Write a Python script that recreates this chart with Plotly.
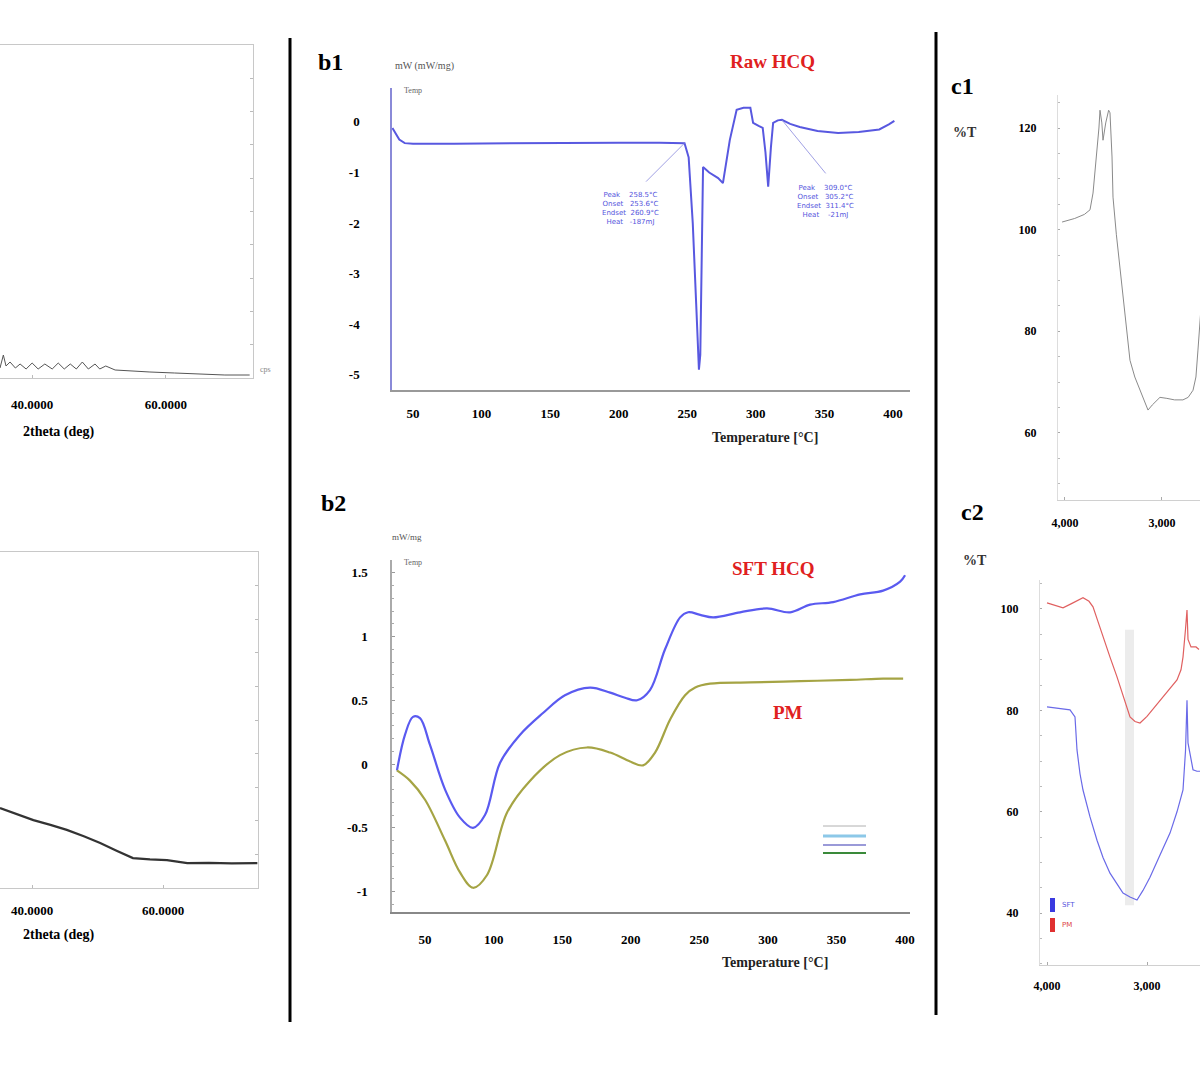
import plotly.graph_objects as go

W, H = 1200, 1080

# ---------------- data ----------------
# a1: XRD pattern (2theta, intensity, arbitrary units)
a1_2theta = [35.2, 35.7, 36.1, 36.7, 37.5, 38.2, 39.1, 40.0, 40.9, 41.9, 43.0, 43.9, 44.8, 45.7,
             46.6, 47.5, 48.4, 49.4, 50.1, 51.0, 52.4, 54.6, 57.6, 61.3, 65.1, 68.8, 72.5]
a1_int = [3.0, 6.9, 3.6, 4.8, 3.0, 4.2, 2.7, 4.5, 2.7, 4.2, 2.7, 4.5, 2.7, 4.2,
          2.7, 4.8, 2.7, 4.2, 2.7, 3.6, 2.4, 2.1, 1.8, 1.5, 1.2, 0.9, 0.9]

# a2: XRD pattern (amorphous)
a2_2theta = [35.1, 37.5, 40.2, 42.8, 45.3, 47.9, 50.4, 52.9, 55.4, 58.0, 60.6, 63.7, 67.0, 70.5, 74.4]
a2_int = [23.8, 22.1, 20.2, 18.8, 17.3, 15.4, 13.4, 11.1, 8.9, 8.5, 8.3, 7.4, 7.5, 7.3, 7.4]

# b1: DSC Raw HCQ (temperature degC, heat flow mW)
b1_T = [35, 37, 40, 44, 50, 80, 120, 160, 200, 230, 248, 251, 254, 256.5, 258.5, 259.5, 260.5,
        261.5, 266, 272.5, 276, 281, 286, 291, 296, 298, 302, 305, 307, 309, 311, 312.6, 316,
        319, 325, 332, 345, 360, 375, 390, 397, 401]
b1_mW = [-0.12, -0.22, -0.35, -0.42, -0.43, -0.43, -0.42, -0.42, -0.41, -0.41, -0.42, -0.7, -2.0,
         -3.6, -4.9, -4.6, -2.8, -0.89, -1.0, -1.11, -1.21, -0.36, 0.24, 0.28, 0.28, -0.02, -0.08,
         -0.12, -0.6, -1.28, -0.5, -0.02, 0.03, 0.04, -0.04, -0.1, -0.18, -0.22, -0.2, -0.15,
         -0.05, 0.02]

# b2: DSC SFT HCQ and PM
b2_sft_T = [29.5, 35.4, 41.2, 46.3, 53.6, 64.6, 75.5, 85, 93.7, 104.7, 119.3, 136, 152, 170.3,
            185, 195.8, 204.6, 214, 225, 236, 241.8, 250.6, 260, 279.7, 299.4, 316.2, 330.8,
            347.6, 367.3, 384, 396.4, 400]
b2_sft_mW = [-0.05, 0.23, 0.37, 0.36, 0.15, -0.2, -0.42, -0.5, -0.4, 0.01, 0.23, 0.4, 0.54, 0.6,
             0.56, 0.52, 0.5, 0.58, 0.9, 1.15, 1.19, 1.17, 1.15, 1.19, 1.22, 1.19, 1.25, 1.27,
             1.33, 1.36, 1.43, 1.48]
b2_pm_T = [29.5, 39, 50, 64.6, 75.5, 85, 95.2, 109.8, 126.6, 148.4, 168.1, 185, 199.5, 209,
           217.7, 228.7, 239.6, 247, 257.8, 287, 323.5, 360, 384, 398.6]
b2_pm_mW = [-0.05, -0.13, -0.28, -0.6, -0.85, -0.97, -0.87, -0.38, -0.13, 0.07, 0.13, 0.09, 0.02,
            -0.01, 0.09, 0.35, 0.54, 0.6, 0.63, 0.64, 0.65, 0.66, 0.67, 0.67]

# c1: FTIR (wavenumber cm-1, %T)
c1_wn = [4030, 3900, 3800, 3742, 3711, 3670, 3650, 3639, 3620, 3608, 3580, 3550, 3536, 3515,
         3505, 3470, 3433, 3402, 3360, 3330, 3280, 3227, 3180, 3144, 3100, 3021, 2950, 2870,
         2784, 2730, 2680, 2650, 2629, 2600]
c1_T = [101.5, 102.2, 103, 103.9, 107.2, 115.1, 120, 123.5, 121, 117.6, 121, 123.5, 123, 114.3,
        106.4, 99, 92.6, 86.1, 79, 74.3, 71, 68.4, 66, 64.5, 65.5, 67, 66.8, 66.5, 66.5, 67,
        68.4, 71, 76.3, 84]

# c2: FTIR two spectra
c2_red_wn = [4000, 3900, 3840, 3760, 3700, 3640, 3580, 3540, 3490, 3440, 3370, 3300, 3230, 3170,
             3120, 3070, 3000, 2930, 2870, 2780, 2700, 2660, 2640, 2615, 2600, 2590, 2560, 2510, 2480]
c2_red_T = [101.2, 100.6, 100.2, 101, 101.6, 102.2, 101.5, 100.4, 97.5, 94.5, 90.5, 86.6, 82.5,
            78.7, 77.8, 77.5, 78.8, 80.5, 82, 84, 86, 88, 90.5, 96, 99.8, 94, 92.5, 92.5, 92]
c2_blue_wn = [4000, 3900, 3830, 3770, 3720, 3700, 3670, 3640, 3570, 3500, 3440, 3370, 3300, 3240,
              3170, 3100, 3040, 2970, 2870, 2770, 2700, 2640, 2615, 2600, 2590, 2560, 2540, 2500, 2470]
c2_blue_T = [80.7, 80.5, 80.3, 80.1, 78.7, 72.2, 67.5, 64.3, 59, 54.4, 51, 47.9, 45.8, 44, 43.2,
             42.6, 44.5, 47.1, 51.5, 55.8, 60, 64.3, 72, 82, 73.6, 70, 68.3, 68, 68]

# tick labels
xrd_ticks = [40, 60]
xrd_ticktext = ["40.0000", "60.0000"]
dsc_xticks = [50, 100, 150, 200, 250, 300, 350, 400]
b1_yticks = [0, -1, -2, -3, -4, -5]
b1_yticktext = ["0", "-1", "-2", "-3", "-4", "-5"]
b2_yticks = [1.5, 1, 0.5, 0, -0.5, -1]
b2_yticktext = ["1.5", "1", "0.5", "0", "-0.5", "-1"]
ir_xticks = [4000, 3000]
ir_xticktext = ["4,000", "3,000"]
c1_yticks = [120, 100, 80, 60]
c2_yticks = [100, 80, 60, 40]

# DSC annotation blocks (text)
b1_block1 = ["Peak    258.5°C", "Onset   253.6°C", "Endset  260.9°C", "Heat   -187mJ"]
b1_block2 = ["Peak    309.0°C", "Onset   305.2°C", "Endset  311.4°C", "Heat    -21mJ"]

SERIF = "Liberation Serif"


def px(x):
    return x / W


def py(y):
    return 1 - y / H


fig = go.Figure()

fig.add_trace(go.Scatter(x=a1_2theta, y=a1_int, xaxis="x", yaxis="y", mode="lines",
                         line=dict(color="#555555", width=1)))
fig.add_trace(go.Scatter(x=a2_2theta, y=a2_int, xaxis="x2", yaxis="y2", mode="lines",
                         line=dict(color="#333333", width=2.2)))
fig.add_trace(go.Scatter(x=b1_T, y=b1_mW, xaxis="x3", yaxis="y3", mode="lines",
                         line=dict(color="#5858e0", width=2)))
fig.add_trace(go.Scatter(x=b2_sft_T, y=b2_sft_mW, xaxis="x4", yaxis="y4", mode="lines",
                         line=dict(color="#5a5af0", width=2.2, shape="spline")))
fig.add_trace(go.Scatter(x=b2_pm_T, y=b2_pm_mW, xaxis="x4", yaxis="y4", mode="lines",
                         line=dict(color="#a5a444", width=2.2, shape="spline")))
fig.add_trace(go.Scatter(x=c1_wn, y=c1_T, xaxis="x5", yaxis="y5", mode="lines",
                         line=dict(color="#8a8a8a", width=1)))
fig.add_trace(go.Scatter(x=c2_red_wn, y=c2_red_T, xaxis="x6", yaxis="y6", mode="lines",
                         line=dict(color="#e06060", width=1.2)))
fig.add_trace(go.Scatter(x=c2_blue_wn, y=c2_blue_T, xaxis="x6", yaxis="y6", mode="lines",
                         line=dict(color="#6a6ae8", width=1.2)))

tickfont = dict(family=SERIF, size=13, color="black", weight="bold")
small_tickfont = dict(family=SERIF, size=12, color="black", weight="bold")

base = dict(showgrid=False, zeroline=False, automargin=False)

layout = dict(
    width=W, height=H, margin=dict(l=0, r=0, t=0, b=0, pad=0), autosize=False,
    paper_bgcolor="white", plot_bgcolor="white", showlegend=False,
    # a1
    xaxis=dict(**base, domain=[0, px(253)], range=[35.2, 73.0], anchor="y",
               tickvals=xrd_ticks, ticktext=xrd_ticktext, tickfont=tickfont,
               ticks="inside", ticklen=3, tickcolor="#bbbbbb", showline=True,
               linecolor="#c8c8c8", mirror=True, ticklabelstandoff=14),
    yaxis=dict(**base, domain=[py(378), py(45)], range=[0, 100], anchor="x", side="right",
               showticklabels=False, ticks="inside", ticklen=3, dtick=10,
               tickcolor="#bbbbbb", showline=True, linecolor="#c8c8c8"),
    # a2
    xaxis2=dict(**base, domain=[0, px(258)], range=[35.1, 74.5], anchor="y2",
                tickvals=xrd_ticks, ticktext=xrd_ticktext, tickfont=tickfont,
                ticks="inside", ticklen=3, tickcolor="#bbbbbb", showline=True,
                linecolor="#c8c8c8", mirror=True, ticklabelstandoff=10),
    yaxis2=dict(**base, domain=[py(888), py(552)], range=[0, 100], anchor="x2", side="right",
                showticklabels=False, ticks="inside", ticklen=3, dtick=10,
                tickcolor="#bbbbbb", showline=True, linecolor="#c8c8c8"),
    # b1
    xaxis3=dict(**base, domain=[px(392), px(910)], range=[34.7, 412.4], anchor="y3",
                tickvals=dsc_xticks, tickfont=tickfont, ticks="", showline=True,
                linecolor="#999999", linewidth=2, ticklabelstandoff=10),
    yaxis3=dict(**base, domain=[py(390), py(88)], range=[-5.3, 0.67], anchor="x3",
                tickvals=b1_yticks, ticktext=b1_yticktext, tickfont=tickfont, ticks="",
                showline=True, linecolor="#8a8ad8", linewidth=1.5, ticklabelstandoff=28),
    # b2
    xaxis4=dict(**base, domain=[px(392), px(910)], range=[25.9, 403.6], anchor="y4",
                tickvals=dsc_xticks, tickfont=tickfont, ticks="", showline=True,
                linecolor="#888888", linewidth=2, ticklabelstandoff=14),
    yaxis4=dict(**base, domain=[py(912), py(560)], range=[-1.16, 1.6], anchor="x4",
                tickvals=b2_yticks, ticktext=b2_yticktext, tickfont=tickfont, ticks="inside",
                ticklen=3, tickcolor="#999999", showline=True, linecolor="#aaaaaa",
                linewidth=1.5, ticklabelstandoff=20,
                minor=dict(ticks="inside", ticklen=2, tickcolor="#aaaaaa", dtick=0.1)),
    # c1
    xaxis5=dict(**base, domain=[px(1058), 1.0], range=[4072, 2608], anchor="y5",
                tickvals=ir_xticks, ticktext=ir_xticktext, tickfont=small_tickfont,
                ticks="inside", ticklen=3, tickcolor="#aaaaaa", showline=True,
                linecolor="#d0d0d0", ticklabelstandoff=12),
    yaxis5=dict(**base, domain=[py(500), py(95)], range=[46.8, 126.5], anchor="x5",
                tickvals=c1_yticks, tickfont=small_tickfont, ticks="inside", ticklen=2,
                tickcolor="#aaaaaa", showline=True, linecolor="#dddddd",
                ticklabelstandoff=18,
                minor=dict(ticks="inside", ticklen=2, tickcolor="#bbbbbb", dtick=5)),
    # c2
    xaxis6=dict(**base, domain=[px(1040), 1.0], range=[4070, 2470], anchor="y6",
                tickvals=ir_xticks, ticktext=ir_xticktext, tickfont=small_tickfont,
                ticks="inside", ticklen=3, tickcolor="#aaaaaa", showline=True,
                linecolor="#d0d0d0", ticklabelstandoff=10),
    yaxis6=dict(**base, domain=[py(965), py(580)], range=[29.8, 105.7], anchor="x6",
                tickvals=c2_yticks, tickfont=small_tickfont, ticks="inside", ticklen=2,
                tickcolor="#aaaaaa", showline=True, linecolor="#dddddd",
                ticklabelstandoff=18,
                minor=dict(ticks="inside", ticklen=2, tickcolor="#bbbbbb", dtick=5)),
)
fig.update_layout(**layout)

ann = []


def text(x, y, t, size=14, color="black", bold=True, xanchor="center", family=SERIF):
    ann.append(dict(x=px(x), y=py(y), xref="paper", yref="paper", text=t, showarrow=False,
                    xanchor=xanchor, yanchor="middle",
                    font=dict(family=family, size=size, color=color,
                              weight="bold" if bold else "normal")))


# panel labels
text(330, 62, "b1", 24)
text(333, 503, "b2", 24)
text(962, 86, "c1", 24)
text(972, 512, "c2", 24)

# sample labels
text(772, 62, "Raw HCQ", 19, "#e02020")
text(773, 568, "SFT HCQ", 19, "#e02020")
text(788, 712, "PM", 19, "#e02020")

# axis titles
text(96, 432, "2theta (deg)", 14, xanchor="right")
text(96, 935, "2theta (deg)", 14, xanchor="right")
text(765, 437, "Temperature [°C]", 14, "#222222")
text(775, 962, "Temperature [°C]", 14, "#222222")
text(965, 133, "%T", 14, "#333333")
text(975, 560, "%T", 14, "#333333")

# small unit labels
text(393, 66, "mW (mW/mg)", 10, "#555555", bold=False, xanchor="left")
text(402, 90, "Temp", 8, "#666666", bold=False, xanchor="left")
text(390, 537, "mW/mg", 9, "#555555", bold=False, xanchor="left")
text(402, 562, "Temp", 8, "#666666", bold=False, xanchor="left")
text(258, 370, "cps", 8, "#888888", bold=False, xanchor="left")

# DSC analysis blocks
text(600, 208, "<br>".join(b1_block1), 7, "#5555dd", bold=False, xanchor="left",
     family="DejaVu Sans")
text(795, 202, "<br>".join(b1_block2), 7, "#5555dd", bold=False, xanchor="left",
     family="DejaVu Sans")

# leader lines from peaks to blocks
ann.append(dict(x=b1_T[10], y=b1_mW[10], xref="x3", yref="y3", ax=-40, ay=40,
                showarrow=True, arrowhead=0, arrowwidth=0.8, arrowcolor="#8888dd", text=""))
ann.append(dict(x=b1_T[33], y=b1_mW[33], xref="x3", yref="y3", ax=45, ay=55,
                showarrow=True, arrowhead=0, arrowwidth=0.8, arrowcolor="#8888dd", text=""))

# c2 mini legend text
text(1060, 905, "SFT", 7, "#5555dd", bold=False, xanchor="left", family="DejaVu Sans")
text(1060, 925, "PM", 7, "#dd4444", bold=False, xanchor="left", family="DejaVu Sans")

fig.update_layout(annotations=ann)

shapes = [
    # panel separators
    dict(type="line", xref="paper", yref="paper", x0=px(290), x1=px(290), y0=py(38), y1=py(1022),
         line=dict(color="black", width=3)),
    dict(type="line", xref="paper", yref="paper", x0=px(936), x1=px(936), y0=py(32), y1=py(1015),
         line=dict(color="black", width=3)),
    # c2 gray band
    dict(type="rect", xref="x6", yref="y6", x0=3220, x1=3130, y0=41.6, y1=95.9,
         fillcolor="#ececec", line=dict(width=0), layer="below"),
    # c2 mini legend marks
    dict(type="rect", xref="paper", yref="paper", x0=px(1050), x1=px(1055), y0=py(912), y1=py(898),
         fillcolor="#3a3ae0", line=dict(width=0)),
    dict(type="rect", xref="paper", yref="paper", x0=px(1050), x1=px(1055), y0=py(932), y1=py(918),
         fillcolor="#e03030", line=dict(width=0)),
    # b2 mini legend box
    dict(type="line", xref="paper", yref="paper", x0=px(823), x1=px(866), y0=py(826), y1=py(826),
         line=dict(color="#b0b0b0", width=1)),
    dict(type="line", xref="paper", yref="paper", x0=px(823), x1=px(866), y0=py(836), y1=py(836),
         line=dict(color="#8cc8e8", width=3)),
    dict(type="line", xref="paper", yref="paper", x0=px(823), x1=px(866), y0=py(845), y1=py(845),
         line=dict(color="#9a9ad8", width=2)),
    dict(type="line", xref="paper", yref="paper", x0=px(823), x1=px(866), y0=py(853), y1=py(853),
         line=dict(color="#3a8a3a", width=2)),
]
fig.update_layout(shapes=shapes)

fig.write_html("out.html")
